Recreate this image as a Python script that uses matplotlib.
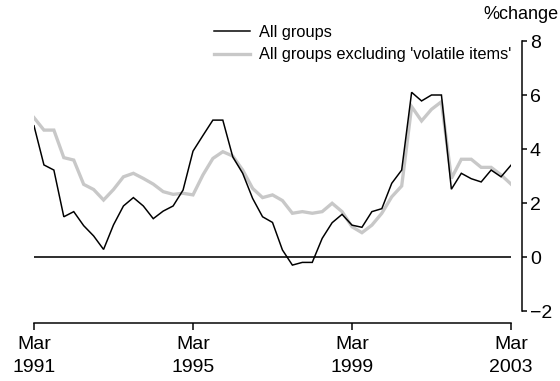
import matplotlib
matplotlib.use("Agg")
import matplotlib.pyplot as plt
from matplotlib.lines import Line2D
import pandas as pd

plt.rcParams["font.family"] = ["Liberation Sans", "DejaVu Sans"]

# Quarterly periods, March 1991 to March 2003
quarters = pd.period_range("1991Q1", "2003Q1", freq="Q")

# Annual % change, all groups CPI
all_groups = [4.86, 3.41, 3.22, 1.49, 1.68, 1.16, 0.78, 0.28, 1.19, 1.89,
              2.20, 1.89, 1.42, 1.70, 1.89, 2.48, 3.92, 4.50, 5.07, 5.07,
              3.71, 3.10, 2.17, 1.49, 1.28, 0.26, -0.30, -0.20, -0.20, 0.69,
              1.27, 1.58, 1.18, 1.10, 1.68, 1.79, 2.73, 3.22, 6.10, 5.78,
              6.00, 6.00, 2.51, 3.10, 2.90, 2.78, 3.22, 2.97, 3.40]

# Annual % change, all groups excluding 'volatile items'
excl_volatile = [5.16, 4.70, 4.70, 3.68, 3.59, 2.69, 2.50, 2.11, 2.50, 2.97,
                 3.10, 2.91, 2.70, 2.42, 2.32, 2.36, 2.30, 3.04, 3.65, 3.90,
                 3.74, 3.22, 2.54, 2.20, 2.30, 2.09, 1.62, 1.68, 1.62, 1.68,
                 1.99, 1.68, 1.12, 0.90, 1.18, 1.62, 2.23, 2.63, 5.57, 5.04,
                 5.47, 5.75, 2.91, 3.62, 3.62, 3.32, 3.32, 3.04, 2.70]

series_labels = ["All groups", "All groups excluding 'volatile items'"]
y_ticks = [-2, 0, 2, 4, 6, 8]
tick_every = 16  # every four years

W, H, DPI = 560, 381, 100
fig = plt.figure(figsize=(W / DPI, H / DPI), dpi=DPI)
px = 72 / DPI  # points per pixel

ax = fig.add_axes([34 / W, 70 / H, 477 / W, 270 / H])

x = list(range(len(quarters)))
black = "#000000"
grey = "#c8c8c8"

ax.plot(x, excl_volatile, color=grey, lw=3.3 * px, solid_joinstyle="miter",
        label=series_labels[1], zorder=2)
ax.plot(x, all_groups, color=black, lw=1.5 * px, solid_joinstyle="miter",
        label=series_labels[0], zorder=3)
ax.plot([x[0], x[-1]], [0, 0], color=black, lw=1.6 * px, zorder=1)

ax.set_xlim(0, len(quarters) - 1)
ax.set_ylim(y_ticks[0], y_ticks[-1])

# Axes styling: right-hand value axis, detached date axis below
for side in ("left", "top"):
    ax.spines[side].set_visible(False)
ax.spines["right"].set_position(("outward", 11 * px))
ax.spines["bottom"].set_position(("outward", 11.7 * px))
ax.spines["bottom"].set_bounds(0, len(quarters) - 1)
for side in ("right", "bottom"):
    ax.spines[side].set_linewidth(1.5 * px)

ax.yaxis.tick_right()
ax.set_yticks(y_ticks)
ax.set_yticklabels([f"{v}" if v >= 0 else f"\u2212{abs(v)}" for v in y_ticks])
ax.tick_params(axis="y", direction="out", length=5 * px, width=1.5 * px,
               pad=3 * px, labelsize=14)

xt = x[::tick_every]
ax.set_xticks(xt)
ax.set_xticklabels([f"Mar\n{quarters[i].year}" for i in xt],
                   linespacing=1.5)
ax.tick_params(axis="x", direction="out", length=7 * px, width=1.5 * px,
               pad=6 * px, labelsize=14)

fig.text(558 / W, 1 - 6 / H, "%change", ha="right", va="top", fontsize=13)

handles = [Line2D([], [], color=black, lw=1.5 * px),
           Line2D([], [], color=grey, lw=3.3 * px)]
fig.legend(handles, series_labels, loc="upper left",
           bbox_to_anchor=(214 / W, 1 - 25 / H), frameon=False, fontsize=11.8,
           handlelength=36 / 16.4, handletextpad=9 / 16.4, labelspacing=0.45,
           borderpad=0, borderaxespad=0)

fig.savefig("out.png", dpi=DPI)
